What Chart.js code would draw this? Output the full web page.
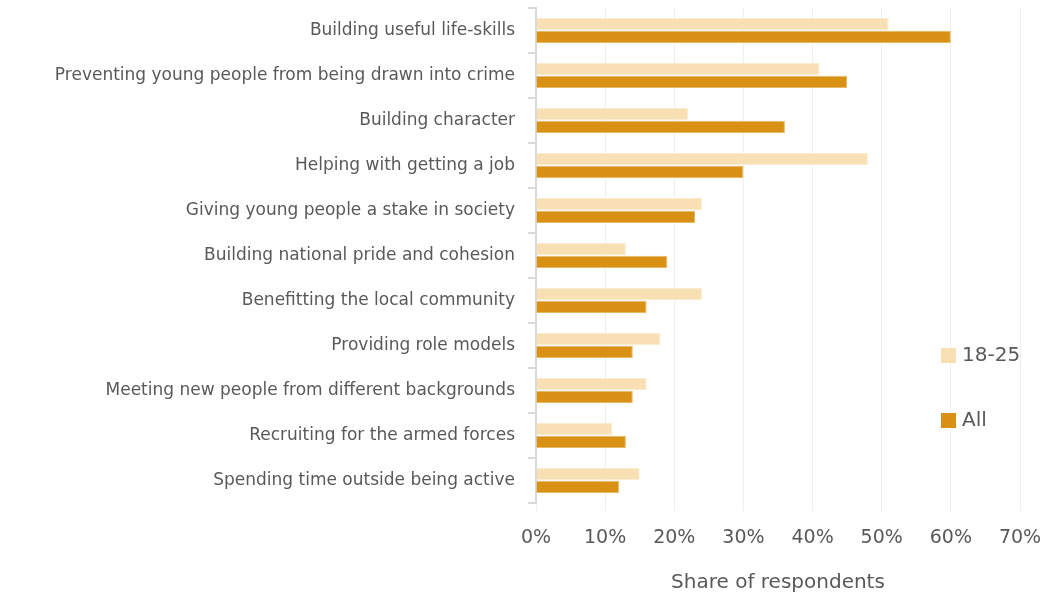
<!DOCTYPE html>
<html>
<head>
<meta charset="utf-8">
<style>
  html, body { margin: 0; padding: 0; background: #fff; }
  #wrap { width: 1047px; height: 599px; }
</style>
<script src="https://cdn.jsdelivr.net/npm/chart.js"></script>
</head>
<body>
<div id="wrap"><canvas id="motivos"></canvas></div>
<script>
const categorias = [
    'Building useful life-skills',
    'Preventing young people from being drawn into crime',
    'Building character',
    'Helping with getting a job',
    'Giving young people a stake in society',
    'Building national pride and cohesion',
    'Benefitting the local community',
    'Providing role models',
    'Meeting new people from different backgrounds',
    'Recruiting for the armed forces',
    'Spending time outside being active'
];
const jovens = [51, 41, 22, 48, 24, 13, 24, 18, 16, 11, 15];
const todos = [60, 45, 36, 30, 23, 19, 16, 14, 14, 13, 12];
const ticksX = [0, 10, 20, 30, 40, 50, 60, 70];

const fonte = "'DejaVu Sans', sans-serif";
const cinza = '#595959';

// legenda desenhada dentro da area do grafico
const legendaDentro = {
    id: 'legendaDentro',
    afterDraw(chart) {
        const ctx = chart.ctx;
        const posY = [355, 420];
        ctx.save();
        ctx.font = '20px ' + fonte;
        ctx.textBaseline = 'middle';
        chart.data.datasets.forEach((ds, i) => {
            ctx.fillStyle = ds.backgroundColor;
            ctx.fillRect(941, posY[i] - 7, 15, 15);
            ctx.fillStyle = cinza;
            ctx.fillText(ds.label, 962, posY[i] + 1);
        });
        ctx.restore();
    }
};

const motivos = document.getElementById('motivos');

new Chart(motivos, {
    type: 'bar',
    data: {
        labels: categorias,
        datasets: [
            {
                label: '18-25',
                data: jovens,
                backgroundColor: '#F9E0B4',
                borderColor: '#FBEBCD',
                borderWidth: 1,
                categoryPercentage: 0.56,
                barPercentage: 0.98
            },
            {
                label: 'All',
                data: todos,
                backgroundColor: '#D99115',
                borderColor: '#E9B866',
                borderWidth: 1,
                categoryPercentage: 0.56,
                barPercentage: 0.98
            }
        ]
    },
    options: {
        indexAxis: 'y',
        responsive: true,
        maintainAspectRatio: false,
        animation: false,
        layout: {
            padding: { left: 0, right: 27, top: 8, bottom: 0 }
        },
        scales: {
            x: {
                min: 0,
                max: 70,
                afterBuildTicks(scale) {
                    scale.ticks = ticksX.map(v => ({ value: v }));
                },
                afterFit(scale) {
                    scale.height = 96;
                    scale.paddingLeft = 0;
                    scale.paddingRight = 0;
                },
                border: { display: false },
                grid: {
                    color: '#EFEFEF',
                    lineWidth: 1,
                    tickLength: 8
                },
                ticks: {
                    color: cinza,
                    padding: 16,
                    font: { family: fonte, size: 19 },
                    callback: v => v + '%'
                },
                title: {
                    display: true,
                    text: 'Share of respondents',
                    color: cinza,
                    padding: { top: 8, bottom: 4 },
                    font: { family: fonte, size: 20 }
                }
            },
            y: {
                afterFit(scale) {
                    scale.width = 536;
                    scale.paddingTop = 0;
                    scale.paddingBottom = 0;
                },
                border: { color: '#D9D9D9', width: 2 },
                grid: {
                    drawOnChartArea: false,
                    color: '#D9D9D9',
                    lineWidth: 2,
                    tickLength: 8
                },
                ticks: {
                    color: cinza,
                    padding: 13,
                    font: { family: fonte, size: 17 }
                }
            }
        },
        plugins: {
            legend: { display: false },
            tooltip: { enabled: false }
        }
    },
    plugins: [legendaDentro]
});
</script>
</body>
</html>
